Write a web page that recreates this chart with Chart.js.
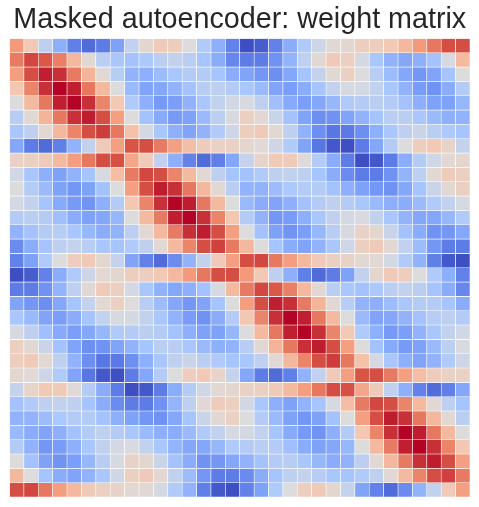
<!DOCTYPE html>
<html>
<head>
<meta charset="utf-8">
<title>Masked autoencoder: weight matrix</title>
<script src="https://cdn.jsdelivr.net/npm/chart.js@4/dist/chart.umd.js"></script>
<style>
  html, body { margin: 0; padding: 0; background: #fff; }
  canvas { display: block; }
</style>
</head>
<body>
<canvas id="chart" width="479" height="507"></canvas>
<script>
const TITLE = 'Masked autoencoder: weight matrix';

// colormap stops, low to high
const COOLWARM = ['#3b4cc0', '#5977e3', '#7b9ff9', '#aac7fd', '#dddcdc', '#f4c6af', '#f49a7b', '#d95847', '#b40426'];

// one row per line (-1 to 1)
const weights = [
  [0.5,0.22,-0.15,-0.4,-0.7,-0.82,-0.72,-0.48,-0.13,0.07,0.2,0.17,0,-0.22,-0.4,-0.68,-0.98,-0.9,-0.68,-0.42,-0.22,-0.08,0.05,0.07,0.17,0.17,0.22,0.33,0.5,0.63,0.78,0.78],
  [0.62,0.8,0.75,0.6,0.33,0.05,-0.17,-0.25,-0.28,-0.24,-0.17,-0.13,-0.17,-0.27,-0.42,-0.65,-0.72,-0.72,-0.58,-0.37,-0.15,0.05,0.2,0.15,-0.05,-0.25,-0.38,-0.45,-0.4,-0.28,-0.03,0.32],
  [0.48,0.78,0.92,0.87,0.62,0.35,0.05,-0.18,-0.38,-0.4,-0.32,-0.25,-0.2,-0.2,-0.27,-0.42,-0.47,-0.55,-0.6,-0.45,-0.27,-0.12,0.05,0.14,0,-0.18,-0.32,-0.45,-0.55,-0.47,-0.27,0],
  [0.23,0.58,0.87,1,0.92,0.63,0.32,0,-0.33,-0.47,-0.45,-0.38,-0.28,-0.18,-0.15,-0.2,-0.25,-0.33,-0.47,-0.5,-0.42,-0.27,-0.13,-0.03,-0.05,-0.13,-0.25,-0.38,-0.52,-0.58,-0.42,-0.2],
  [0,0.32,0.63,0.92,1,0.87,0.58,0.22,-0.22,-0.4,-0.53,-0.5,-0.38,-0.25,-0.13,-0.06,-0.03,-0.15,-0.3,-0.43,-0.5,-0.45,-0.35,-0.22,-0.2,-0.17,-0.2,-0.28,-0.4,-0.48,-0.48,-0.35],
  [-0.18,0.05,0.35,0.63,0.87,0.93,0.78,0.47,0,-0.28,-0.43,-0.53,-0.48,-0.33,-0.16,-0.02,0.15,0.05,-0.1,-0.28,-0.47,-0.6,-0.58,-0.47,-0.38,-0.27,-0.17,-0.17,-0.25,-0.33,-0.4,-0.38],
  [-0.25,-0.15,0.05,0.33,0.58,0.78,0.83,0.63,0.28,-0.05,-0.25,-0.4,-0.47,-0.38,-0.22,-0.08,0.17,0.2,0.05,-0.15,-0.38,-0.6,-0.75,-0.73,-0.6,-0.4,-0.25,-0.15,-0.1,-0.17,-0.23,-0.27],
  [-0.45,-0.72,-0.82,-0.7,-0.38,-0.13,0.2,0.47,0.76,0.78,0.62,0.47,0.3,0.18,0.13,0.13,0.07,0.03,-0.08,-0.22,-0.47,-0.75,-0.93,-0.98,-0.72,-0.45,-0.2,0,0.17,0.22,0.1,-0.12],
  [0.13,0.15,0.2,0.32,0.48,0.63,0.78,0.77,0.43,0.2,-0.14,-0.4,-0.68,-0.82,-0.7,-0.45,-0.12,0.1,0.22,0.2,0.02,-0.2,-0.42,-0.72,-0.98,-0.93,-0.72,-0.42,-0.2,-0.07,0.05,0.07],
  [-0.06,-0.25,-0.4,-0.48,-0.38,-0.27,-0.03,0.3,0.62,0.8,0.78,0.58,0.32,0.05,-0.15,-0.27,-0.28,-0.22,-0.15,-0.13,-0.15,-0.27,-0.42,-0.62,-0.72,-0.72,-0.58,-0.37,-0.15,0.05,0.18,0.15],
  [0,-0.2,-0.33,-0.48,-0.55,-0.48,-0.28,0,0.47,0.78,0.93,0.87,0.63,0.33,0.05,-0.17,-0.38,-0.38,-0.32,-0.24,-0.2,-0.2,-0.28,-0.4,-0.48,-0.55,-0.58,-0.45,-0.27,-0.1,0.05,0.14],
  [-0.05,-0.13,-0.27,-0.43,-0.53,-0.57,-0.4,-0.2,0.24,0.58,0.87,1,0.93,0.63,0.32,0,-0.33,-0.42,-0.47,-0.4,-0.28,-0.2,-0.15,-0.2,-0.25,-0.33,-0.4,-0.42,-0.33,-0.22,-0.13,-0.03],
  [-0.2,-0.17,-0.2,-0.3,-0.42,-0.48,-0.45,-0.35,0,0.32,0.62,0.92,1,0.87,0.58,0.24,-0.2,-0.38,-0.55,-0.52,-0.4,-0.25,-0.14,-0.05,-0.02,-0.13,-0.25,-0.37,-0.45,-0.45,-0.35,-0.22],
  [-0.38,-0.28,-0.2,-0.18,-0.25,-0.35,-0.42,-0.38,-0.16,0.05,0.33,0.62,0.87,0.93,0.78,0.47,0,-0.28,-0.48,-0.57,-0.5,-0.35,-0.18,-0.03,0.12,0.07,-0.1,-0.28,-0.42,-0.58,-0.55,-0.45],
  [-0.62,-0.42,-0.27,-0.15,-0.12,-0.18,-0.25,-0.27,-0.22,-0.15,0.05,0.32,0.58,0.78,0.82,0.62,0.33,0,-0.27,-0.42,-0.47,-0.38,-0.25,-0.07,0.15,0.2,0.06,-0.13,-0.32,-0.55,-0.72,-0.72],
  [-0.68,-0.48,-0.22,0,0.17,0.2,0.08,-0.12,-0.47,-0.68,-0.82,-0.62,-0.38,-0.13,0.2,0.47,0.78,0.8,0.63,0.48,0.33,0.2,0.15,0.12,0.05,0.05,-0.05,-0.22,-0.38,-0.7,-0.93,-0.98],
  [-0.98,-0.9,-0.68,-0.42,-0.22,-0.08,0.05,0.07,0.17,0.17,0.22,0.33,0.5,0.63,0.78,0.78,0.5,0.22,-0.15,-0.4,-0.7,-0.82,-0.72,-0.48,-0.13,0.07,0.2,0.17,0,-0.22,-0.4,-0.68],
  [-0.72,-0.72,-0.58,-0.37,-0.15,0.05,0.2,0.15,-0.05,-0.25,-0.38,-0.45,-0.4,-0.28,-0.03,0.32,0.62,0.8,0.75,0.6,0.33,0.05,-0.17,-0.25,-0.28,-0.24,-0.17,-0.13,-0.17,-0.27,-0.42,-0.65],
  [-0.47,-0.55,-0.6,-0.45,-0.27,-0.12,0.05,0.14,0,-0.18,-0.32,-0.45,-0.55,-0.47,-0.27,0,0.48,0.78,0.92,0.87,0.62,0.35,0.05,-0.18,-0.38,-0.4,-0.32,-0.25,-0.2,-0.2,-0.27,-0.42],
  [-0.25,-0.33,-0.47,-0.5,-0.42,-0.27,-0.13,-0.03,-0.05,-0.13,-0.25,-0.38,-0.52,-0.58,-0.42,-0.2,0.23,0.58,0.87,1,0.92,0.63,0.32,0,-0.33,-0.47,-0.45,-0.38,-0.28,-0.18,-0.15,-0.2],
  [-0.03,-0.15,-0.3,-0.43,-0.5,-0.45,-0.35,-0.22,-0.2,-0.17,-0.2,-0.28,-0.4,-0.48,-0.48,-0.35,0,0.32,0.63,0.92,1,0.87,0.58,0.22,-0.22,-0.4,-0.53,-0.5,-0.38,-0.25,-0.13,-0.06],
  [0.15,0.05,-0.1,-0.28,-0.47,-0.6,-0.58,-0.47,-0.38,-0.27,-0.17,-0.17,-0.25,-0.33,-0.4,-0.38,-0.18,0.05,0.35,0.63,0.87,0.93,0.78,0.47,0,-0.28,-0.43,-0.53,-0.48,-0.33,-0.16,-0.02],
  [0.17,0.2,0.05,-0.15,-0.38,-0.6,-0.75,-0.73,-0.6,-0.4,-0.25,-0.15,-0.1,-0.17,-0.23,-0.27,-0.25,-0.15,0.05,0.33,0.58,0.78,0.83,0.63,0.28,-0.05,-0.25,-0.4,-0.47,-0.38,-0.22,-0.08],
  [0.07,0.03,-0.08,-0.22,-0.47,-0.75,-0.93,-0.98,-0.72,-0.45,-0.2,0,0.17,0.22,0.1,-0.12,-0.45,-0.72,-0.82,-0.7,-0.38,-0.13,0.2,0.47,0.76,0.78,0.62,0.47,0.3,0.18,0.13,0.13],
  [-0.12,0.1,0.22,0.2,0.02,-0.2,-0.42,-0.72,-0.98,-0.93,-0.72,-0.42,-0.2,-0.07,0.05,0.07,0.13,0.15,0.2,0.32,0.48,0.63,0.78,0.77,0.43,0.2,-0.14,-0.4,-0.68,-0.82,-0.7,-0.45],
  [-0.28,-0.22,-0.15,-0.13,-0.15,-0.27,-0.42,-0.62,-0.72,-0.72,-0.58,-0.37,-0.15,0.05,0.18,0.15,-0.06,-0.25,-0.4,-0.48,-0.38,-0.27,-0.03,0.3,0.62,0.8,0.78,0.58,0.32,0.05,-0.15,-0.27],
  [-0.38,-0.38,-0.32,-0.24,-0.2,-0.2,-0.28,-0.4,-0.48,-0.55,-0.58,-0.45,-0.27,-0.1,0.05,0.14,0,-0.2,-0.33,-0.48,-0.55,-0.48,-0.28,0,0.47,0.78,0.93,0.87,0.63,0.33,0.05,-0.17],
  [-0.33,-0.42,-0.47,-0.4,-0.28,-0.2,-0.15,-0.2,-0.25,-0.33,-0.4,-0.42,-0.33,-0.22,-0.13,-0.03,-0.05,-0.13,-0.27,-0.43,-0.53,-0.57,-0.4,-0.2,0.24,0.58,0.87,1,0.93,0.63,0.32,0],
  [-0.2,-0.38,-0.55,-0.52,-0.4,-0.25,-0.14,-0.05,-0.02,-0.13,-0.25,-0.37,-0.45,-0.45,-0.35,-0.22,-0.2,-0.17,-0.2,-0.3,-0.42,-0.48,-0.45,-0.35,0,0.32,0.62,0.92,1,0.87,0.58,0.24],
  [0,-0.28,-0.48,-0.57,-0.5,-0.35,-0.18,-0.03,0.12,0.07,-0.1,-0.28,-0.42,-0.58,-0.55,-0.45,-0.38,-0.28,-0.2,-0.18,-0.25,-0.35,-0.42,-0.38,-0.16,0.05,0.33,0.62,0.87,0.93,0.78,0.47],
  [0.33,0,-0.27,-0.42,-0.47,-0.38,-0.25,-0.07,0.15,0.2,0.06,-0.13,-0.32,-0.55,-0.72,-0.72,-0.62,-0.42,-0.27,-0.15,-0.12,-0.18,-0.25,-0.27,-0.22,-0.15,0.05,0.32,0.58,0.78,0.82,0.62],
  [0.78,0.8,0.63,0.48,0.33,0.2,0.15,0.12,0.05,0.05,-0.05,-0.22,-0.38,-0.7,-0.93,-0.98,-0.68,-0.48,-0.22,0,0.17,0.2,0.08,-0.12,-0.47,-0.68,-0.82,-0.62,-0.38,-0.13,0.2,0.47]
];

const columns = weights[0].map((_, i) => String(i));

function hexToRgb(hex) {
  return [1, 3, 5].map(i => parseInt(hex.slice(i, i + 2), 16));
}

function weightColor(v) {
  const t = (Math.max(-1, Math.min(1, v)) + 1) / 2 * (COOLWARM.length - 1);
  const i = Math.min(Math.floor(t), COOLWARM.length - 2);
  const a = hexToRgb(COOLWARM[i]);
  const b = hexToRgb(COOLWARM[i + 1]);
  const c = a.map((n, k) => Math.round(n + (b[k] - n) * (t - i)));
  return `rgb(${c[0]}, ${c[1]}, ${c[2]})`;
}

// each matrix row is one dataset of floating bars spanning row..row+1
const datasets = weights.map((row, r) => ({
  label: `row ${r}`,
  data: row.map(() => [r, r + 1]),
  backgroundColor: row.map(weightColor),
  borderColor: '#ffffff',
  borderWidth: 0.6,
  borderSkipped: false,
  barPercentage: 1,
  categoryPercentage: 1,
  grouped: false
}));

new Chart(document.getElementById('chart'), {
  type: 'bar',
  data: { labels: columns, datasets },
  options: {
    responsive: false,
    animation: false,
    layout: { padding: { left: 9.5, right: 9, top: 0, bottom: 10 } },
    plugins: {
      legend: { display: false },
      tooltip: { enabled: false },
      title: {
        display: true,
        text: TITLE,
        color: '#262626',
        font: { family: '"Liberation Sans", Arial, sans-serif', size: 28.7, weight: 'normal', lineHeight: 1.2 },
        padding: { top: 3, bottom: 1 }
      }
    },
    scales: {
      x: { display: false, grid: { display: false } },
      y: { display: false, min: 0, max: weights.length, reverse: true, grid: { display: false } }
    }
  }
});
</script>
</body>
</html>
